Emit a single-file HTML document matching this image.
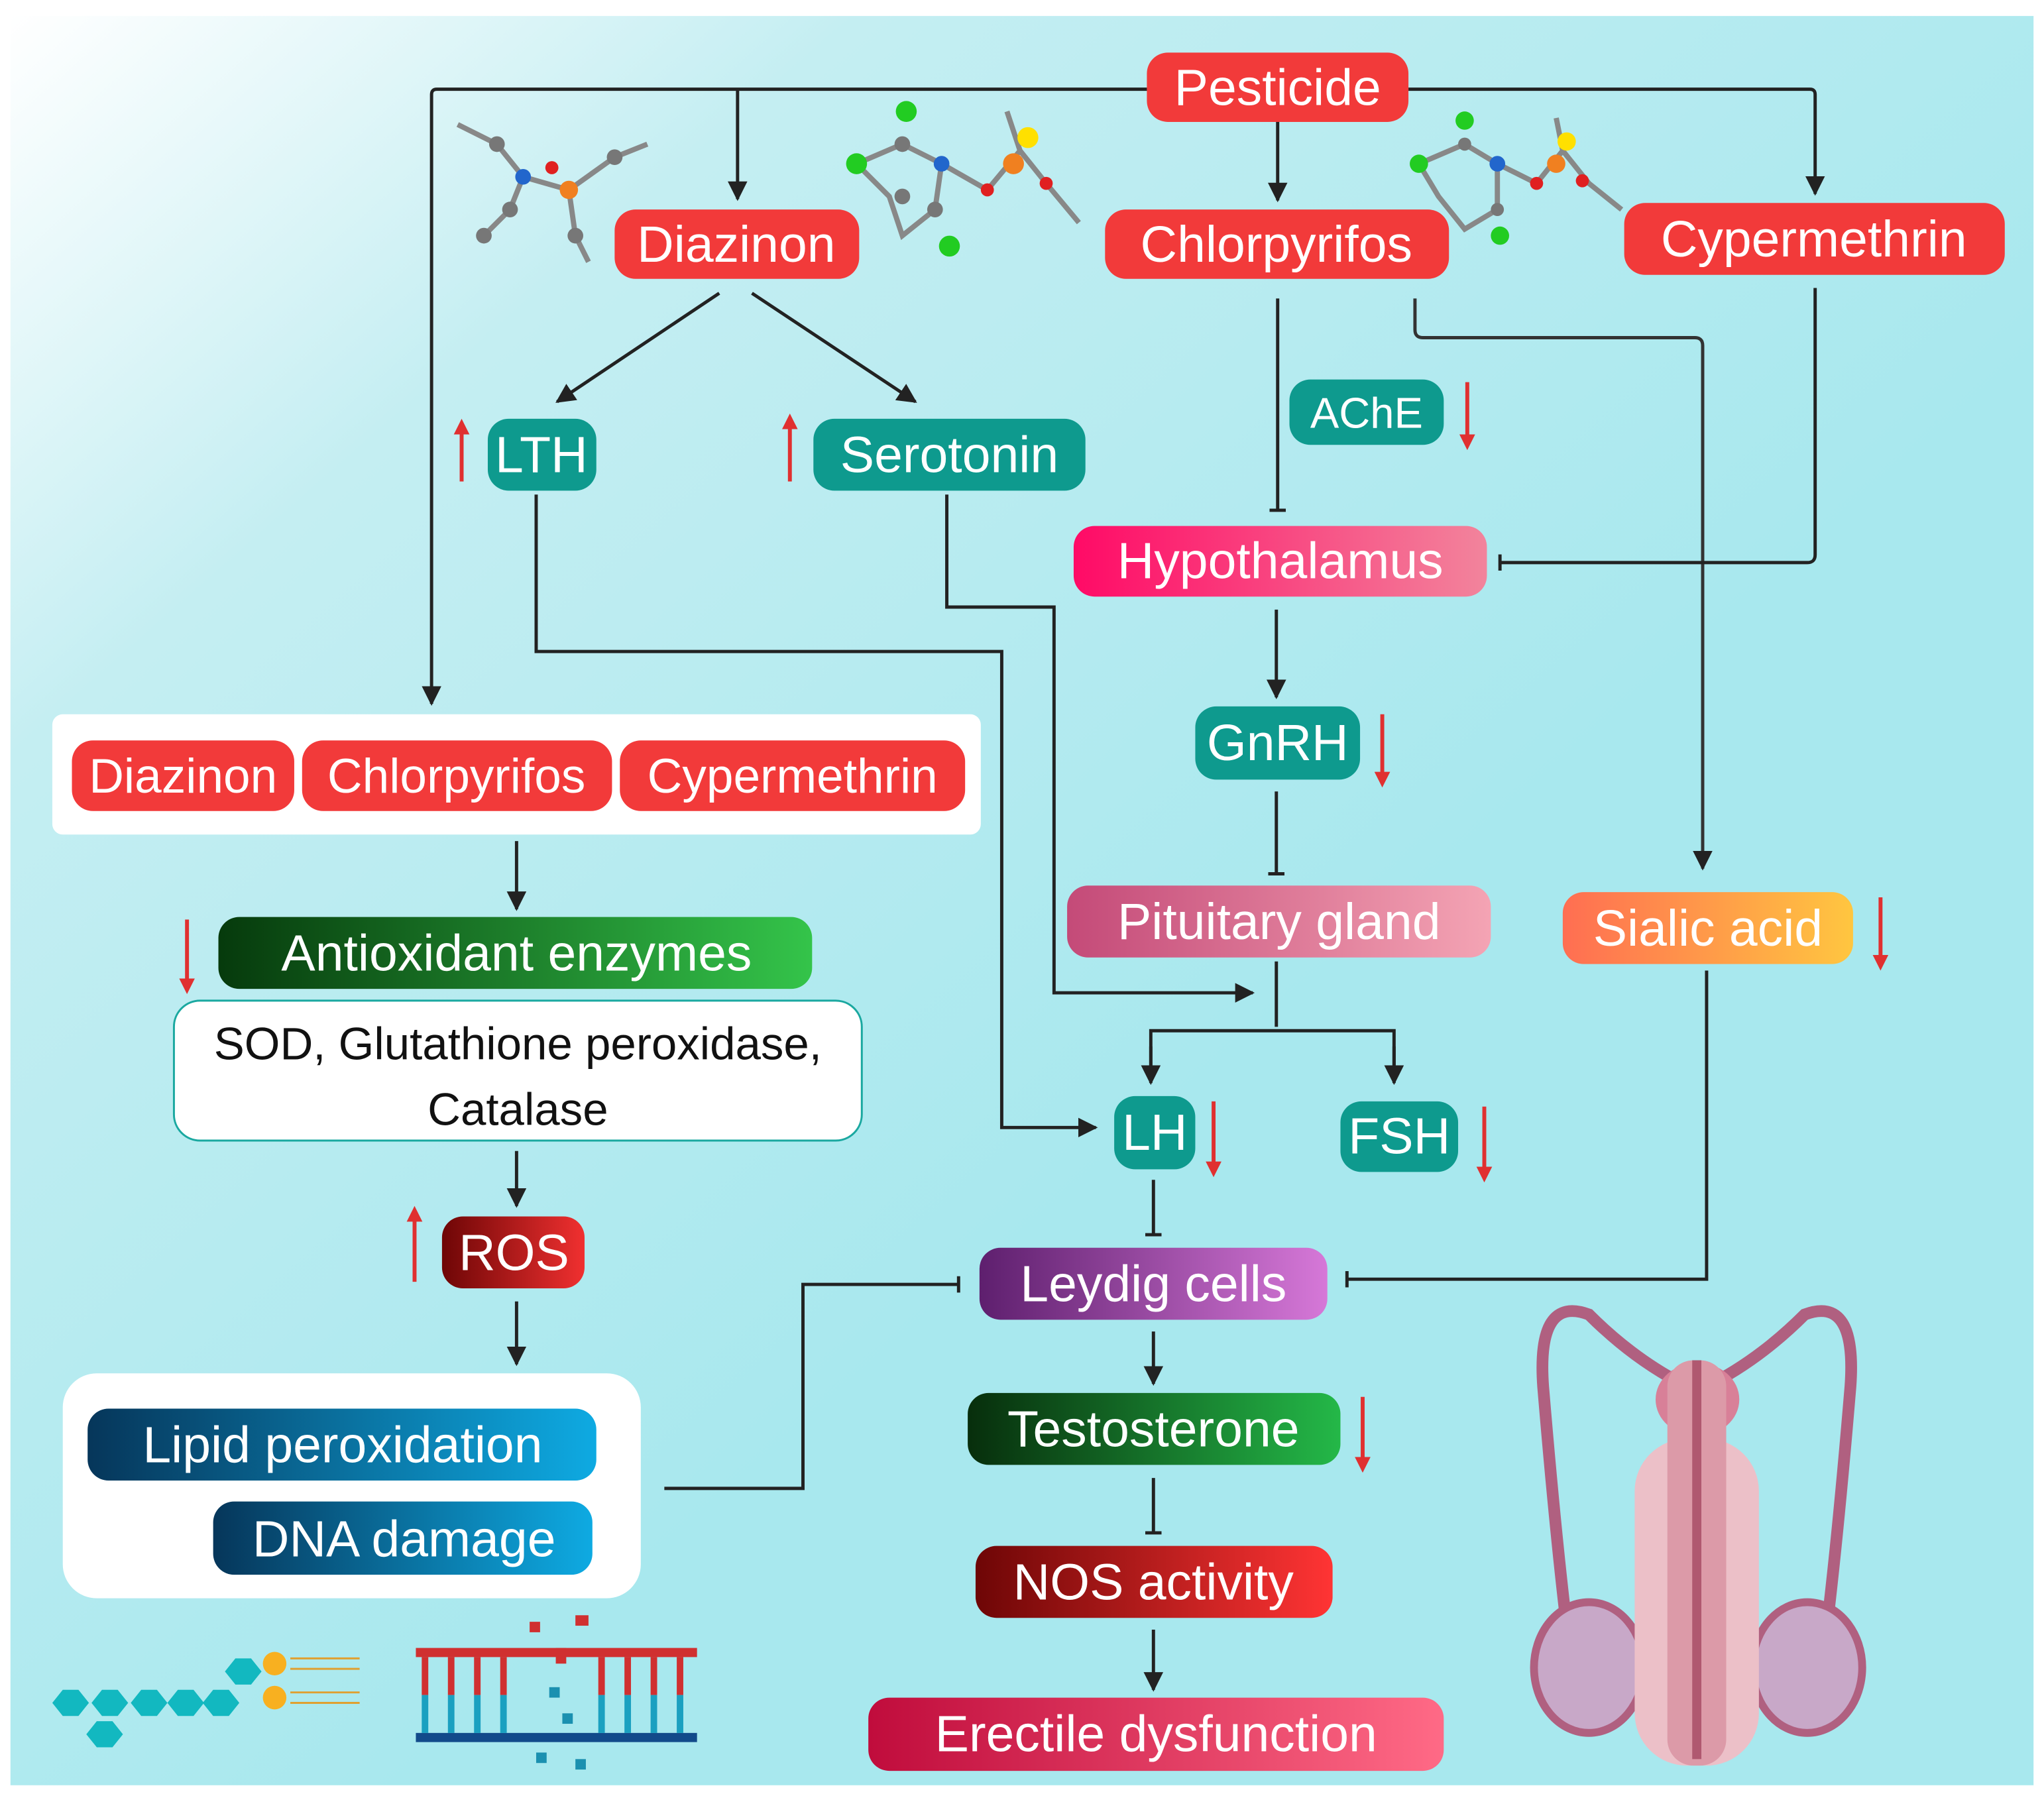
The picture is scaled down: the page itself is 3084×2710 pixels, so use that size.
<!DOCTYPE html>
<html><head><meta charset="utf-8"><style>
html,body{margin:0;padding:0;background:#fff}
svg{display:block}
text{font-family:"Liberation Sans",sans-serif}
</style></head><body>
<svg width="3084" height="2710" viewBox="0 0 1563 1373" xmlns="http://www.w3.org/2000/svg">
<defs>
<linearGradient id="bg" x1="0" y1="0" x2="0.6" y2="0.6"><stop offset="0" stop-color="#ffffff"/><stop offset="0.35" stop-color="#c4eef2"/><stop offset="1" stop-color="#a8e8ee"/></linearGradient>
<linearGradient id="hyp" x1="0" x2="1"><stop offset="0" stop-color="#ff0a66"/><stop offset="1" stop-color="#f2849c"/></linearGradient>
<linearGradient id="pit" x1="0" x2="1"><stop offset="0" stop-color="#c44a78"/><stop offset="1" stop-color="#f4a4b4"/></linearGradient>
<linearGradient id="sia" x1="0" x2="1"><stop offset="0" stop-color="#ff6e52"/><stop offset="1" stop-color="#ffc640"/></linearGradient>
<linearGradient id="ley" x1="0" x2="1"><stop offset="0" stop-color="#5e1f6e"/><stop offset="1" stop-color="#d678d8"/></linearGradient>
<linearGradient id="tes" x1="0" x2="1"><stop offset="0" stop-color="#072e0c"/><stop offset="1" stop-color="#24b848"/></linearGradient>
<linearGradient id="nos" x1="0" x2="1"><stop offset="0" stop-color="#6e0606"/><stop offset="1" stop-color="#ff3434"/></linearGradient>
<linearGradient id="ros" x1="0" x2="1"><stop offset="0" stop-color="#6e0606"/><stop offset="1" stop-color="#f03030"/></linearGradient>
<linearGradient id="ere" x1="0" x2="1"><stop offset="0" stop-color="#c00c3c"/><stop offset="1" stop-color="#ff6a86"/></linearGradient>
<linearGradient id="ant" x1="0" x2="1"><stop offset="0" stop-color="#063a0c"/><stop offset="1" stop-color="#34c44a"/></linearGradient>
<linearGradient id="blu" x1="0" x2="1"><stop offset="0" stop-color="#06365a"/><stop offset="1" stop-color="#0eaae2"/></linearGradient>
<marker id="a" viewBox="0 0 10 10" refX="9" refY="5" markerWidth="6" markerHeight="6" orient="auto"><path d="M0,0L10,5L0,10z" fill="#222"/></marker>
<marker id="t" viewBox="0 0 10 10" refX="5" refY="5" markerWidth="5" markerHeight="5" orient="auto"><path d="M5,0V10" stroke="#222" stroke-width="2"/></marker>
<marker id="ra" viewBox="0 0 10 10" refX="5" refY="5" markerWidth="4" markerHeight="4" orient="auto"><path d="M0,0L10,5L0,10z" fill="#e03030"/></marker>
</defs>
<rect width="1563" height="1373" fill="#fff"/>
<rect x="8" y="12" width="1547" height="1353" fill="url(#bg)"/>

<g fill="none" stroke="#222" stroke-width="2.5">
<path d="M877,68H334Q330,68 330,72V538" marker-end="url(#a)"/>
<path d="M564,68V152" marker-end="url(#a)"/>
<path d="M977,93V153" marker-end="url(#a)"/>
<path d="M1077,68H1384Q1388,68 1388,72V148" marker-end="url(#a)"/>
<path d="M550,224L426,307" marker-end="url(#a)"/>
<path d="M575,224L700,307" marker-end="url(#a)"/>
<path d="M977,228V390" marker-end="url(#t)"/>
<path d="M1082,228V252Q1082,258 1088,258H1296Q1302,258 1302,264V664" marker-end="url(#a)" stroke="#333"/>
<path d="M1388,220V424Q1388,430 1382,430H1147" marker-end="url(#t)"/>
<path d="M976,466V533" marker-end="url(#a)"/>
<path d="M976,605V668" marker-end="url(#t)"/>
<path d="M976,735V785M880,826V788H1066V826" />
<path d="M880,800V828" marker-end="url(#a)"/><path d="M1066,800V828" marker-end="url(#a)"/>
<path d="M724,378V464H806V759H958" marker-end="url(#a)"/>
<path d="M410,378V498H766V862H838" marker-end="url(#a)"/>
<path d="M882,902V944" marker-end="url(#t)"/>
<path d="M1305,742V978H1030" marker-end="url(#t)"/>
<path d="M508,1138H614V982H733" marker-end="url(#t)"/>
<path d="M882,1018V1058" marker-end="url(#a)"/>
<path d="M882,1130V1172" marker-end="url(#t)"/>
<path d="M882,1246V1292" marker-end="url(#a)"/>
<path d="M395,643V695" marker-end="url(#a)"/>
<path d="M395,880V922" marker-end="url(#a)"/>
<path d="M395,995V1043" marker-end="url(#a)"/>
</g>

<g stroke="#e03030" stroke-width="3">
<path d="M353,368V326" marker-end="url(#ra)"/>
<path d="M604,368V322" marker-end="url(#ra)"/>
<path d="M1122,292V338" marker-end="url(#ra)"/>
<path d="M1057,546V596" marker-end="url(#ra)"/>
<path d="M1438,686V736" marker-end="url(#ra)"/>
<path d="M928,842V894" marker-end="url(#ra)"/>
<path d="M1135,846V898" marker-end="url(#ra)"/>
<path d="M1042,1068V1120" marker-end="url(#ra)"/>
<path d="M143,703V754" marker-end="url(#ra)"/>
<path d="M317,980V928" marker-end="url(#ra)"/>
</g>

<rect x="40" y="546" width="710" height="92" rx="8" fill="#fff"/>
<rect x="48" y="1050" width="442" height="172" rx="26" fill="#fff"/>
<rect x="133" y="765" width="526" height="107" rx="20" fill="#fff" stroke="#1aa8a0" stroke-width="1.5"/>

<g font-size="39" fill="#fff" text-anchor="middle">
<rect x="877" y="40" width="200" height="53" rx="16" fill="#f23a3a"/><text x="977" y="80" fill="#fff">Pesticide</text>
<rect x="470" y="160" width="187" height="53" rx="16" fill="#f23a3a"/><text x="563" y="200" fill="#fff">Diazinon</text>
<rect x="845" y="160" width="263" height="53" rx="16" fill="#f23a3a"/><text x="976" y="200" fill="#fff">Chlorpyrifos</text>
<rect x="1242" y="155" width="291" height="55" rx="16" fill="#f23a3a"/><text x="1387" y="196" fill="#fff">Cypermethrin</text>
<rect x="373" y="320" width="83" height="55" rx="16" fill="#0e9a8e"/><text x="414" y="361" fill="#fff">LTH</text>
<rect x="622" y="320" width="208" height="55" rx="16" fill="#0e9a8e"/><text x="726" y="361" fill="#fff">Serotonin</text>
<rect x="986" y="290" width="118" height="50" rx="16" fill="#0e9a8e"/><text x="1045" y="327" fill="#fff" font-size="33">AChE</text>
<rect x="821" y="402" width="316" height="54" rx="16" fill="url(#hyp)"/><text x="979" y="442" fill="#fff">Hypothalamus</text>
<rect x="914" y="540" width="126" height="56" rx="16" fill="#0e9a8e"/><text x="977" y="581" fill="#fff">GnRH</text>
<rect x="816" y="677" width="324" height="55" rx="16" fill="url(#pit)"/><text x="978" y="718" fill="#fff">Pituitary gland</text>
<rect x="1195" y="682" width="222" height="55" rx="16" fill="url(#sia)"/><text x="1306" y="723" fill="#fff">Sialic acid</text>
<rect x="852" y="838" width="62" height="56" rx="16" fill="#0e9a8e"/><text x="883" y="879" fill="#fff">LH</text>
<rect x="1025" y="842" width="90" height="54" rx="16" fill="#0e9a8e"/><text x="1070" y="882" fill="#fff">FSH</text>
<rect x="749" y="954" width="266" height="55" rx="16" fill="url(#ley)"/><text x="882" y="995" fill="#fff">Leydig cells</text>
<rect x="740" y="1065" width="285" height="55" rx="16" fill="url(#tes)"/><text x="882" y="1106" fill="#fff">Testosterone</text>
<rect x="746" y="1182" width="273" height="55" rx="16" fill="url(#nos)"/><text x="882" y="1223" fill="#fff">NOS activity</text>
<rect x="664" y="1298" width="440" height="56" rx="16" fill="url(#ere)"/><text x="884" y="1339" fill="#fff">Erectile dysfunction</text>
<rect x="55" y="566" width="170" height="54" rx="16" fill="#f23a3a"/><text x="140" y="606" fill="#fff" font-size="37">Diazinon</text>
<rect x="231" y="566" width="237" height="54" rx="16" fill="#f23a3a"/><text x="349" y="606" fill="#fff" font-size="37">Chlorpyrifos</text>
<rect x="474" y="566" width="264" height="54" rx="16" fill="#f23a3a"/><text x="606" y="606" fill="#fff" font-size="37">Cypermethrin</text>
<rect x="167" y="701" width="454" height="55" rx="16" fill="url(#ant)"/><text x="395" y="742" fill="#fff">Antioxidant enzymes</text>
<rect x="338" y="930" width="109" height="55" rx="16" fill="url(#ros)"/><text x="393" y="971" fill="#fff">ROS</text>
<rect x="67" y="1077" width="389" height="55" rx="16" fill="url(#blu)"/><text x="262" y="1118" fill="#fff">Lipid peroxidation</text>
<rect x="163" y="1148" width="290" height="56" rx="16" fill="url(#blu)"/><text x="309" y="1190" fill="#fff">DNA damage</text>
<text x="396" y="810" fill="#111" font-size="35">SOD, Glutathione peroxidase,</text>
<text x="396" y="860" fill="#111" font-size="35">Catalase</text>
</g>

<g stroke="#888" stroke-width="4" fill="none">
<path d="M350,95L380,110L400,135L390,160L370,180M400,135L435,145L440,180L450,200M435,145L470,120L495,110"/>
<path d="M655,125L690,110L720,125L715,160L690,180L680,150L655,125M720,125L755,145L780,115L800,140L825,170M780,115L770,85"/>
<path d="M1085,125L1120,110L1145,125L1145,160L1120,175L1100,150L1085,125M1145,125L1175,140L1195,115L1215,140L1240,160M1195,115L1190,90"/>
</g>
<g>
<circle cx="380" cy="110" r="6" fill="#777"/><circle cx="400" cy="135" r="6" fill="#2266cc"/><circle cx="390" cy="160" r="6" fill="#777"/><circle cx="370" cy="180" r="6" fill="#777"/><circle cx="435" cy="145" r="7" fill="#f08020"/><circle cx="440" cy="180" r="6" fill="#777"/><circle cx="470" cy="120" r="6" fill="#777"/><circle cx="422" cy="128" r="5" fill="#e02020"/>
<circle cx="655" cy="125" r="8" fill="#22cc22"/><circle cx="693" cy="85" r="8" fill="#22cc22"/><circle cx="726" cy="188" r="8" fill="#22cc22"/><circle cx="720" cy="125" r="6" fill="#2266cc"/><circle cx="775" cy="125" r="8" fill="#f08020"/><circle cx="786" cy="105" r="8" fill="#ffe000"/><circle cx="755" cy="145" r="5" fill="#e02020"/><circle cx="800" cy="140" r="5" fill="#e02020"/><circle cx="690" cy="150" r="6" fill="#777"/><circle cx="690" cy="110" r="6" fill="#777"/><circle cx="715" cy="160" r="6" fill="#777"/>
<circle cx="1085" cy="125" r="7" fill="#22cc22"/><circle cx="1120" cy="92" r="7" fill="#22cc22"/><circle cx="1147" cy="180" r="7" fill="#22cc22"/><circle cx="1145" cy="125" r="6" fill="#2266cc"/><circle cx="1190" cy="125" r="7" fill="#f08020"/><circle cx="1198" cy="108" r="7" fill="#ffe000"/><circle cx="1175" cy="140" r="5" fill="#e02020"/><circle cx="1210" cy="138" r="5" fill="#e02020"/><circle cx="1120" cy="110" r="5" fill="#777"/><circle cx="1145" cy="160" r="5" fill="#777"/>
</g>

<g fill="#12b8c0">
<polygon points="40,1302 48,1292 60,1292 68,1302 60,1312 48,1312"/><polygon points="70,1302 78,1292 90,1292 98,1302 90,1312 78,1312"/><polygon points="100,1302 108,1292 120,1292 128,1302 120,1312 108,1312"/><polygon points="128,1302 136,1292 148,1292 156,1302 148,1312 136,1312"/><polygon points="155,1302 163,1292 175,1292 183,1302 175,1312 163,1312"/><polygon points="172,1278 180,1268 192,1268 200,1278 192,1288 180,1288"/><polygon points="66,1326 74,1316 86,1316 94,1326 86,1336 74,1336"/>
</g>
<circle cx="210" cy="1272" r="9" fill="#f8b020"/><circle cx="210" cy="1298" r="9" fill="#f8b020"/>
<g stroke="#e0a030" stroke-width="1.5"><path d="M222,1268H275M222,1276H275M222,1294H275M222,1302H275"/></g>
<g><rect x="318" y="1260" width="215" height="7" fill="#d03030"/><rect x="318" y="1325" width="215" height="7" fill="#124a8a"/>
<g stroke-width="5"><path d="M325,1267V1296M345,1267V1296M365,1267V1296M385,1267V1296M460,1267V1296M480,1267V1296M500,1267V1296M520,1267V1296" stroke="#d03030"/><path d="M325,1296V1325M345,1296V1325M365,1296V1325M385,1296V1325M460,1296V1325M480,1296V1325M500,1296V1325M520,1296V1325" stroke="#1aa0c0"/></g>
<g fill="#d03030"><rect x="405" y="1240" width="8" height="8"/><rect x="440" y="1235" width="10" height="8"/><rect x="425" y="1260" width="8" height="12"/></g>
<g fill="#1a90b0"><rect x="420" y="1290" width="8" height="8"/><rect x="430" y="1310" width="8" height="8"/><rect x="410" y="1340" width="8" height="8"/><rect x="440" y="1345" width="8" height="8"/></g></g>

<g fill="none" stroke="#b06080" stroke-width="9" stroke-linecap="round">
<path d="M1290,1060Q1250,1040 1215,1005Q1175,990 1180,1060Q1190,1180 1200,1260"/>
<path d="M1305,1060Q1345,1040 1380,1005Q1420,990 1415,1060Q1405,1180 1395,1260"/>
</g>
<ellipse cx="1215" cy="1275" rx="42" ry="50" fill="#c8a8c8" stroke="#b06080" stroke-width="6"/>
<ellipse cx="1382" cy="1275" rx="42" ry="50" fill="#c8a8c8" stroke="#b06080" stroke-width="6"/>
<ellipse cx="1298" cy="1070" rx="32" ry="28" fill="#d88098"/>
<rect x="1250" y="1100" width="95" height="250" rx="40" fill="#ecc0c8"/>
<rect x="1275" y="1040" width="45" height="310" rx="20" fill="#dc9aa8"/>
<rect x="1294" y="1040" width="7" height="305" fill="#b05870"/>
</svg>
</body></html>
